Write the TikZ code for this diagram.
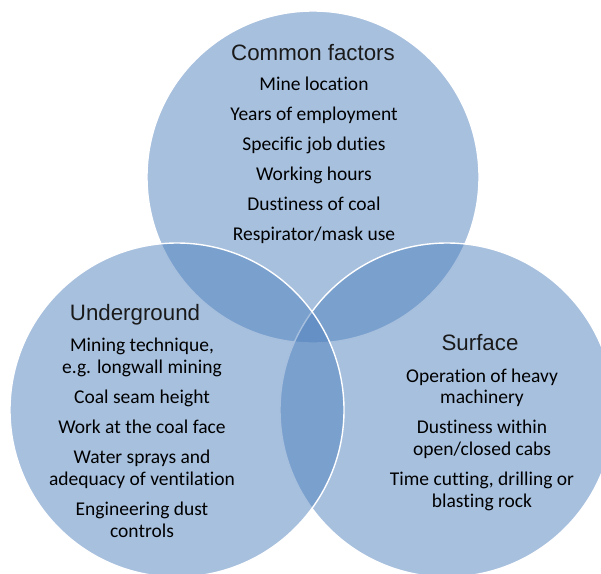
\documentclass[tikz,border=0pt]{standalone}
\usepackage{fontspec}
\setmainfont[Ligatures={NoCommon}]{Carlito}
\newfontfamily\headfont{Liberation Sans}
\definecolor{vennblue}{HTML}{4F81BD}
\definecolor{headgray}{HTML}{1A1A1A}
\begin{document}
\begin{tikzpicture}[x=1pt,y=-1pt,
  venn/.style={circle, inner sep=0pt, minimum size=#1, fill=vennblue, fill opacity=0.5, draw=white, line width=1.4pt},
  head/.style={anchor=base, font=\headfont\fontsize{22.3}{26}\selectfont, text=headgray, inner sep=0pt},
  item/.style={anchor=base, font=\fontsize{19.5}{23}\selectfont, text=black, inner sep=0pt}]
\useasboundingbox (0,0) rectangle (601,573);
\begin{scope}
\clip (0,0) rectangle (601,573);
\node[venn=332pt] (ctop) at (313,177) {};
\node[venn=334pt] (cright) at (447,410) {};
\node[venn=334pt] (cleft) at (177,410) {};
\end{scope}
% Common factors
\node[head] (hcommon) at (313,60) {Common factors};
\node[item] (c1) at (314,90) {Mine location};
\node[item] (c2) at (314,120) {Years of employment};
\node[item] (c3) at (314,150) {Specific job duties};
\node[item] (c4) at (314,180) {Working hours};
\node[item] (c5) at (314,210) {Dustiness of coal};
\node[item] (c6) at (314,240) {Respirator/mask use};
% Underground
\node[head] (hunder) at (135,320) {Underground};
\node[item] (u1a) at (142,351) {Mining technique,};
\node[item] (u1b) at (142,373) {e.g. longwall mining};
\node[item] (u2) at (142,403) {Coal seam height};
\node[item] (u3) at (142,433) {Work at the coal face};
\node[item] (u4a) at (142,463) {Water sprays and};
\node[item] (u4b) at (142,485) {adequacy of ventilation};
\node[item] (u5a) at (142,515) {Engineering dust};
\node[item] (u5b) at (142,537) {controls};
% Surface
\node[head] (hsurf) at (480,350) {Surface};
\node[item] (s1a) at (482,382) {Operation of heavy};
\node[item] (s1b) at (482,403) {machinery};
\node[item] (s2a) at (482,433) {Dustiness within};
\node[item] (s2b) at (482,455) {open/closed cabs};
\node[item] (s3a) at (482,485) {Time cutting, drilling or};
\node[item] (s3b) at (482,507) {blasting rock};
\end{tikzpicture}
\end{document}
